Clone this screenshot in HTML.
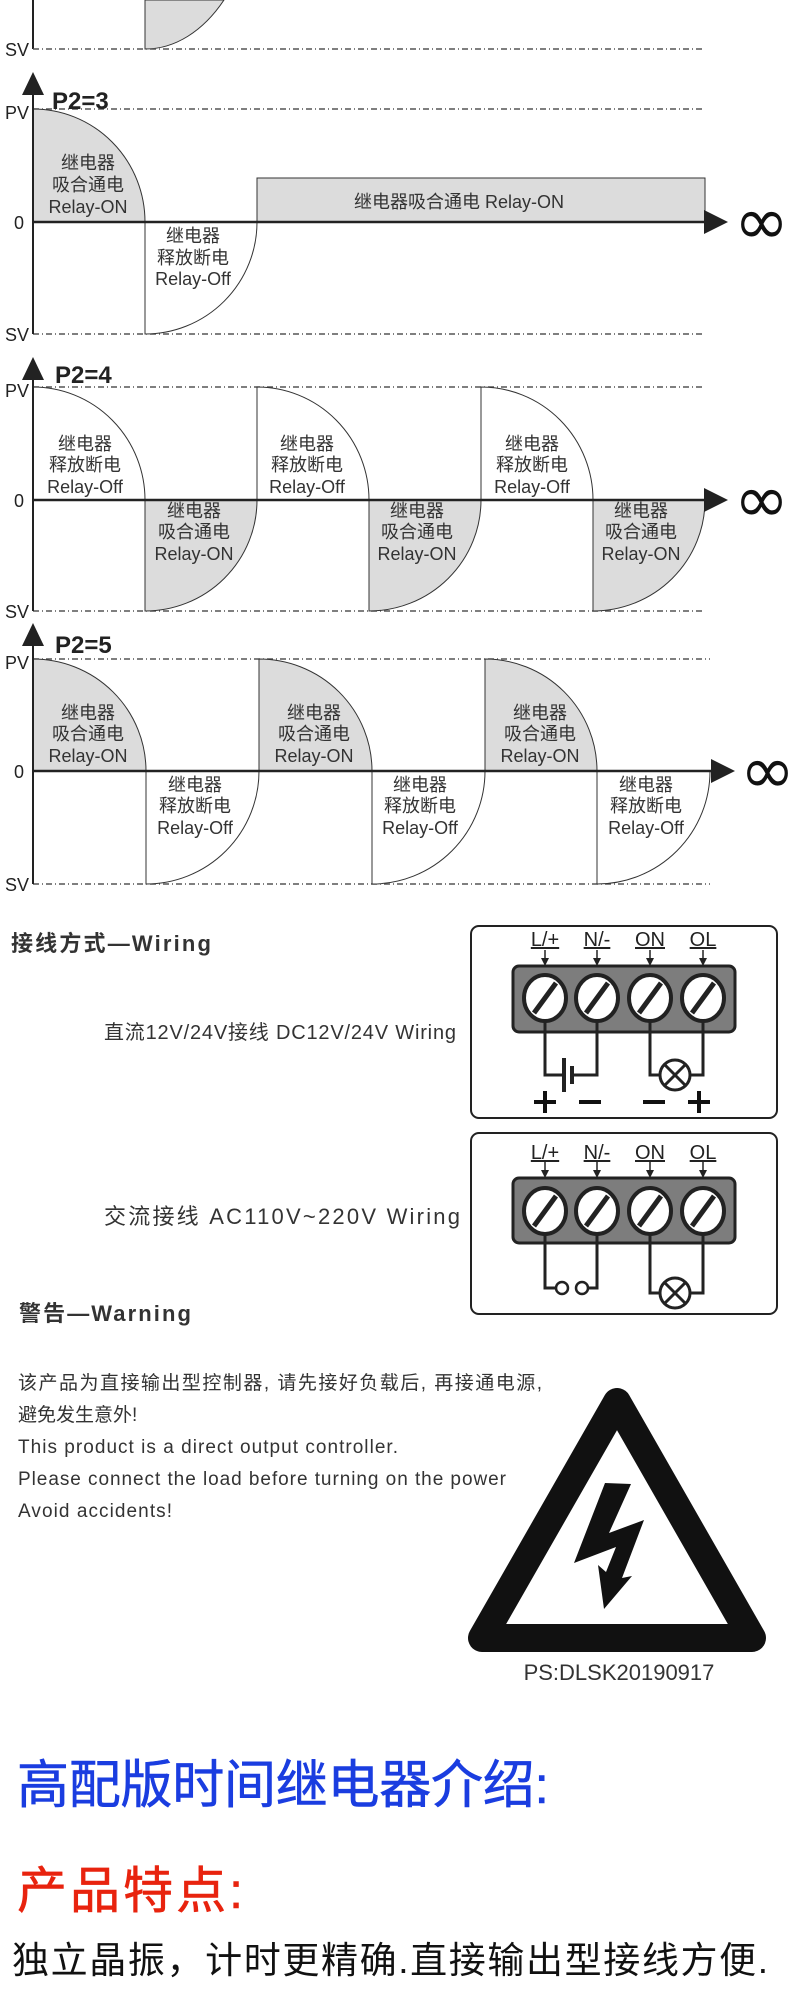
<!DOCTYPE html>
<html><head><meta charset="utf-8"><style>
html,body{margin:0;padding:0;background:#fff;}
svg{display:block;}
.l{font-family:"Liberation Sans Narrow","Liberation Sans","Noto Sans CJK SC",sans-serif;font-size:18px;fill:#333;text-anchor:middle;}
.ax{font-family:"Liberation Sans Narrow","Liberation Sans",sans-serif;font-size:18px;fill:#222;}
.p2{font-family:"Liberation Sans Narrow","Liberation Sans",sans-serif;font-size:24px;font-weight:bold;fill:#222;}
.inf{font-family:"DejaVu Sans","Liberation Sans",sans-serif;font-size:66px;fill:#111;}
.dl{stroke:#555;stroke-width:1.5;stroke-dasharray:6 3 1 3;fill:none;}
.g{fill:#dcdcdc;stroke:#333;stroke-width:1;}
.w{fill:#fff;stroke:#333;stroke-width:1;}
.t{font-family:"Liberation Sans Narrow","Liberation Sans","Noto Sans CJK SC",sans-serif;fill:#333;}
.tl{font-family:"Liberation Sans Narrow","Liberation Sans",sans-serif;font-size:20px;fill:#222;text-anchor:middle;text-decoration:underline;}
</style></head><body>
<svg width="790" height="2000" viewBox="0 0 790 2000" xmlns="http://www.w3.org/2000/svg">
<path class="g" d="M145,0 L145,49 A112,170 0 0 0 224,0 Z"/>
<line x1="33" y1="0" x2="33" y2="49" stroke="#222" stroke-width="2"/>
<line class="dl" x1="33" y1="49" x2="705" y2="49"/>
<text class="ax" x="5" y="56">SV</text>

<!-- P2=3 -->
<line class="dl" x1="33" y1="109" x2="705" y2="109"/>
<line class="dl" x1="33" y1="334" x2="705" y2="334"/>
<path class="g" d="M33,222 L33,109 A112,113 0 0 1 145,222 Z"/>
<path class="w" d="M145,222 L257,222 A112,112 0 0 1 145,334 Z"/>
<rect class="g" x="257" y="178" width="448" height="44"/>
<line x1="33" y1="95" x2="33" y2="334" stroke="#222" stroke-width="2"/>
<polygon points="33,72 22,95 44,95" fill="#222"/>
<line x1="33" y1="222" x2="706" y2="222" stroke="#222" stroke-width="2.5"/>
<polygon points="728,222 704,210 704,234" fill="#222"/>
<text class="inf" x="734" y="244">∞</text>
<text class="p2" x="52" y="109">P2=3</text>
<text class="ax" x="5" y="119">PV</text>
<text class="ax" x="14" y="229">0</text>
<text class="ax" x="5" y="341">SV</text>
<text class="l" x="88" y="169">继电器</text><text class="l" x="88" y="191">吸合通电</text><text class="l" x="88" y="213">Relay-ON</text>
<text class="l" x="193" y="242">继电器</text><text class="l" x="193" y="264">释放断电</text><text class="l" x="193" y="285">Relay-Off</text>
<text class="l" x="459" y="208">继电器吸合通电 Relay-ON</text>

<!-- P2=4 -->
<line class="dl" x1="33" y1="387" x2="705" y2="387"/>
<line class="dl" x1="33" y1="611" x2="705" y2="611"/>
<path class="w" d="M33,500 L33,387 A112,113 0 0 1 145,500 Z"/>
<path class="w" d="M257,500 L257,387 A112,113 0 0 1 369,500 Z"/>
<path class="w" d="M481,500 L481,387 A112,113 0 0 1 593,500 Z"/>
<path class="g" d="M145,500 L257,500 A112,111 0 0 1 145,611 Z"/>
<path class="g" d="M369,500 L481,500 A112,111 0 0 1 369,611 Z"/>
<path class="g" d="M593,500 L705,500 A112,111 0 0 1 593,611 Z"/>
<line x1="33" y1="380" x2="33" y2="611" stroke="#222" stroke-width="2"/>
<polygon points="33,357 22,380 44,380" fill="#222"/>
<line x1="33" y1="500" x2="706" y2="500" stroke="#222" stroke-width="2.5"/>
<polygon points="728,500 704,488 704,512" fill="#222"/>
<text class="inf" x="734" y="522">∞</text>
<text class="p2" x="55" y="383">P2=4</text>
<text class="ax" x="5" y="397">PV</text>
<text class="ax" x="14" y="507">0</text>
<text class="ax" x="5" y="618">SV</text>
<g>
<text class="l" x="85" y="450">继电器</text><text class="l" x="85" y="471">释放断电</text><text class="l" x="85" y="493">Relay-Off</text>
<text class="l" x="307" y="450">继电器</text><text class="l" x="307" y="471">释放断电</text><text class="l" x="307" y="493">Relay-Off</text>
<text class="l" x="532" y="450">继电器</text><text class="l" x="532" y="471">释放断电</text><text class="l" x="532" y="493">Relay-Off</text>
<text class="l" x="194" y="517">继电器</text><text class="l" x="194" y="538">吸合通电</text><text class="l" x="194" y="560">Relay-ON</text>
<text class="l" x="417" y="517">继电器</text><text class="l" x="417" y="538">吸合通电</text><text class="l" x="417" y="560">Relay-ON</text>
<text class="l" x="641" y="517">继电器</text><text class="l" x="641" y="538">吸合通电</text><text class="l" x="641" y="560">Relay-ON</text>
</g>

<!-- P2=5 -->
<line class="dl" x1="33" y1="659" x2="710" y2="659"/>
<line class="dl" x1="33" y1="884" x2="710" y2="884"/>
<path class="g" d="M33,771 L33,659 A113,112 0 0 1 146,771 Z"/>
<path class="g" d="M259,771 L259,659 A113,112 0 0 1 372,771 Z"/>
<path class="g" d="M485,771 L485,659 A112,112 0 0 1 597,771 Z"/>
<path class="w" d="M146,771 L259,771 A113,113 0 0 1 146,884 Z"/>
<path class="w" d="M372,771 L485,771 A113,113 0 0 1 372,884 Z"/>
<path class="w" d="M597,771 L710,771 A113,113 0 0 1 597,884 Z"/>
<line x1="33" y1="646" x2="33" y2="884" stroke="#222" stroke-width="2"/>
<polygon points="33,623 22,646 44,646" fill="#222"/>
<line x1="33" y1="771" x2="712" y2="771" stroke="#222" stroke-width="2.5"/>
<polygon points="735,771 711,759 711,783" fill="#222"/>
<text class="inf" x="740" y="793">∞</text>
<text class="p2" x="55" y="653">P2=5</text>
<text class="ax" x="5" y="669">PV</text>
<text class="ax" x="14" y="778">0</text>
<text class="ax" x="5" y="891">SV</text>
<g>
<text class="l" x="88" y="719">继电器</text><text class="l" x="88" y="740">吸合通电</text><text class="l" x="88" y="762">Relay-ON</text>
<text class="l" x="314" y="719">继电器</text><text class="l" x="314" y="740">吸合通电</text><text class="l" x="314" y="762">Relay-ON</text>
<text class="l" x="540" y="719">继电器</text><text class="l" x="540" y="740">吸合通电</text><text class="l" x="540" y="762">Relay-ON</text>
<text class="l" x="195" y="791">继电器</text><text class="l" x="195" y="812">释放断电</text><text class="l" x="195" y="834">Relay-Off</text>
<text class="l" x="420" y="791">继电器</text><text class="l" x="420" y="812">释放断电</text><text class="l" x="420" y="834">Relay-Off</text>
<text class="l" x="646" y="791">继电器</text><text class="l" x="646" y="812">释放断电</text><text class="l" x="646" y="834">Relay-Off</text>
</g>

<!-- Wiring -->
<text class="t" x="11" y="951" font-size="22" font-weight="bold" fill="#222" textLength="200">接线方式—Wiring</text>
<text class="t" x="104" y="1039" font-size="20" textLength="352">直流12V/24V接线  DC12V/24V  Wiring</text>
<text class="t" x="104" y="1224" font-size="22" textLength="356">交流接线  AC110V~220V Wiring</text>
<text class="t" x="19" y="1321" font-size="22" font-weight="bold" fill="#222" textLength="172">警告—Warning</text>

<g stroke="#222" fill="none">
<rect x="471" y="926" width="306" height="192" rx="8" stroke-width="2"/>
<rect x="471" y="1133" width="306" height="181" rx="8" stroke-width="2"/>
</g>
<g>
<text class="tl" x="545" y="946">L/+</text><text class="tl" x="597" y="946">N/-</text><text class="tl" x="650" y="946">ON</text><text class="tl" x="703" y="946">OL</text>
<g stroke="#222" stroke-width="1.5">
<line x1="545" y1="950" x2="545" y2="962"/><line x1="597" y1="950" x2="597" y2="962"/><line x1="650" y1="950" x2="650" y2="962"/><line x1="703" y1="950" x2="703" y2="962"/>
</g>
<g fill="#222"><polygon points="541,958 549,958 545,966"/><polygon points="593,958 601,958 597,966"/><polygon points="646,958 654,958 650,966"/><polygon points="699,958 707,958 703,966"/></g>
<rect x="513" y="966" width="222" height="66" rx="6" fill="#7d7d7d" stroke="#222" stroke-width="3"/>
<g fill="none" stroke="#222" stroke-width="3">
<polyline points="545,1019 545,1075 563,1075"/>
<polyline points="572,1075 597,1075 597,1019"/>
<polyline points="650,1019 650,1075 660,1075"/>
<polyline points="690,1075 703,1075 703,1019"/>
</g>
<line x1="564" y1="1058" x2="564" y2="1092" stroke="#222" stroke-width="4"/>
<line x1="572" y1="1066" x2="572" y2="1084" stroke="#222" stroke-width="4"/>
<circle cx="675" cy="1075" r="15" fill="#fff" stroke="#222" stroke-width="3"/>
<g stroke="#222" stroke-width="3"><line x1="665" y1="1065" x2="685" y2="1085"/><line x1="685" y1="1065" x2="665" y2="1085"/></g>
<g fill="#fff" stroke="#222" stroke-width="4">
<ellipse cx="545" cy="998" rx="21" ry="23"/><ellipse cx="597" cy="998" rx="21" ry="23"/><ellipse cx="650" cy="998" rx="21" ry="23"/><ellipse cx="703" cy="998" rx="21" ry="23"/>
</g>
<g stroke="#222" stroke-width="5">
<line x1="534" y1="1013" x2="556" y2="983"/><line x1="586" y1="1013" x2="608" y2="983"/><line x1="639" y1="1013" x2="661" y2="983"/><line x1="692" y1="1013" x2="714" y2="983"/>
</g>
<g stroke="#111" stroke-width="4">
<line x1="534" y1="1102" x2="556" y2="1102"/><line x1="545" y1="1091" x2="545" y2="1113"/>
<line x1="579" y1="1102" x2="601" y2="1102"/>
<line x1="643" y1="1102" x2="665" y2="1102"/>
<line x1="688" y1="1102" x2="710" y2="1102"/><line x1="699" y1="1091" x2="699" y2="1113"/>
</g>
</g>
<g>
<text class="tl" x="545" y="1159">L/+</text><text class="tl" x="597" y="1159">N/-</text><text class="tl" x="650" y="1159">ON</text><text class="tl" x="703" y="1159">OL</text>
<g stroke="#222" stroke-width="1.5">
<line x1="545" y1="1162" x2="545" y2="1174"/><line x1="597" y1="1162" x2="597" y2="1174"/><line x1="650" y1="1162" x2="650" y2="1174"/><line x1="703" y1="1162" x2="703" y2="1174"/>
</g>
<g fill="#222"><polygon points="541,1170 549,1170 545,1178"/><polygon points="593,1170 601,1170 597,1178"/><polygon points="646,1170 654,1170 650,1178"/><polygon points="699,1170 707,1170 703,1178"/></g>
<rect x="513" y="1178" width="222" height="65" rx="6" fill="#7d7d7d" stroke="#222" stroke-width="3"/>
<g fill="none" stroke="#222" stroke-width="3">
<polyline points="545,1232 545,1288 556,1288"/>
<polyline points="588,1288 597,1288 597,1232"/>
<polyline points="650,1232 650,1293 660,1293"/>
<polyline points="690,1293 703,1293 703,1232"/>
</g>
<circle cx="562" cy="1288" r="6" fill="#fff" stroke="#222" stroke-width="2.5"/>
<circle cx="582" cy="1288" r="6" fill="#fff" stroke="#222" stroke-width="2.5"/>
<circle cx="675" cy="1293" r="15" fill="#fff" stroke="#222" stroke-width="3"/>
<g stroke="#222" stroke-width="3"><line x1="665" y1="1283" x2="685" y2="1303"/><line x1="685" y1="1283" x2="665" y2="1303"/></g>
<g fill="#fff" stroke="#222" stroke-width="4">
<ellipse cx="545" cy="1211" rx="21" ry="23"/><ellipse cx="597" cy="1211" rx="21" ry="23"/><ellipse cx="650" cy="1211" rx="21" ry="23"/><ellipse cx="703" cy="1211" rx="21" ry="23"/>
</g>
<g stroke="#222" stroke-width="5">
<line x1="534" y1="1226" x2="556" y2="1196"/><line x1="586" y1="1226" x2="608" y2="1196"/><line x1="639" y1="1226" x2="661" y2="1196"/><line x1="692" y1="1226" x2="714" y2="1196"/>
</g>
</g>

<g class="t" font-size="19" fill="#333">
<text x="18" y="1389" textLength="524">该产品为直接输出型控制器, 请先接好负载后, 再接通电源,</text>
<text x="18" y="1421">避免发生意外!</text>
<text x="18" y="1453" textLength="380">This product is a direct output controller.</text>
<text x="18" y="1485" textLength="488">Please connect the load before turning on the power</text>
<text x="18" y="1517" textLength="154">Avoid accidents!</text>
</g>
<path d="M617,1402 L482,1638 L752,1638 Z" fill="none" stroke="#111" stroke-width="28" stroke-linejoin="round"/>
<polygon points="605,1483 631,1484 609,1533 644,1520 622,1578 632,1576 604,1609 598,1565 606,1572 616,1547 574,1563" fill="#111"/>
<text class="t" x="619" y="1680" font-size="22" text-anchor="middle" fill="#444">PS:DLSK20190917</text>

<text x="17" y="1803" font-family="'Liberation Sans','Noto Sans CJK SC',sans-serif" font-size="52" fill="#1a3de0" stroke="#1a3de0" stroke-width="0.6" textLength="532">高配版时间继电器介绍:</text>
<text x="17" y="1908" font-family="'Liberation Sans','Noto Sans CJK SC',sans-serif" font-size="50" fill="#e8230e" stroke="#e8230e" stroke-width="0.6" textLength="226">产品特点:</text>
<text x="12" y="1973" font-family="'Liberation Sans','Noto Sans CJK SC',sans-serif" font-size="37" fill="#111" textLength="756">独立晶振，计时更精确.直接输出型接线方便.</text>
</svg>
</body></html>
